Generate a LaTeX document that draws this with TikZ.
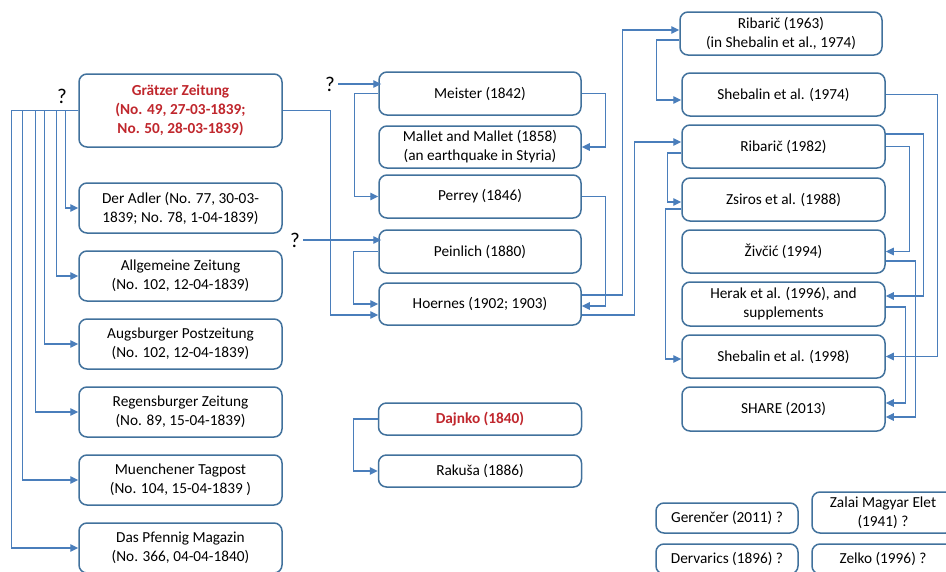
\documentclass[tikz,border=0pt]{standalone}
\usepackage{fontspec}
\setmainfont{Carlito}
\usetikzlibrary{arrows.meta,calc}
\definecolor{boxc}{HTML}{41719C}
\definecolor{connc}{HTML}{4A7EBB}
\definecolor{redt}{HTML}{C0272D}
\begin{document}
\begin{tikzpicture}[x=1pt,y=-1pt,
  box/.style={draw=boxc,line width=1.5pt,rounded corners=8pt,align=center,inner sep=0pt,
    font=\fontsize{15.3}{19}\selectfont,text=black},
  conn/.style={draw=connc,line width=1.3pt},
  arr/.style={conn,-{Triangle[length=8pt,width=7.5pt]}},
  qm/.style={font=\fontsize{21}{24}\selectfont,inner sep=0pt}]
\useasboundingbox (0,0) rectangle (946,571);
% left column
\node[box,minimum width=203pt,minimum height=73pt,font=\fontsize{15.3}{19}\selectfont\bfseries,text=redt] (g) at (180.5,110.5) {Grätzer Zeitung\\(No. 49, 27-03-1839;\\No. 50, 28-03-1839)};
\node[box,minimum width=203pt,minimum height=50pt] (adler) at (180.5,208) {Der Adler (No. 77, 30-03-\\1839; No. 78, 1-04-1839)};
\node[box,minimum width=203pt,minimum height=50pt] (allg) at (180.5,276) {Allgemeine Zeitung\\(No. 102, 12-04-1839)};
\node[box,minimum width=203pt,minimum height=50pt] (augs) at (180.5,344) {Augsburger Postzeitung\\(No. 102, 12-04-1839)};
\node[box,minimum width=203pt,minimum height=50pt] (regs) at (180.5,412) {Regensburger Zeitung\\(No. 89, 15-04-1839)};
\node[box,minimum width=203pt,minimum height=50pt] (muen) at (180.5,480) {Muenchener Tagpost\\(No. 104, 15-04-1839 )};
\node[box,minimum width=203pt,minimum height=50pt] (pfen) at (180.5,548) {Das Pfennig Magazin\\(No. 366, 04-04-1840)};
\node[qm] (q1) at (62,96) {?};
% middle column
\node[box,minimum width=202pt,minimum height=43pt] (meis) at (480,93.5) {Meister (1842)};
\node[box,minimum width=202pt,minimum height=42pt] (mall) at (480,147) {Mallet and Mallet (1858)\\(an earthquake in Styria)};
\node[box,minimum width=202pt,minimum height=43pt] (perr) at (480,196.5) {Perrey (1846)};
\node[box,minimum width=202pt,minimum height=43pt] (pein) at (480,251.5) {Peinlich (1880)};
\node[box,minimum width=202pt,minimum height=42pt] (hoer) at (480,304) {Hoernes (1902; 1903)};
\node[qm] (q2) at (330,84) {?};
\node[qm] (q3) at (295,240) {?};
\node[box,minimum width=203pt,minimum height=32pt,font=\fontsize{15.3}{19}\selectfont\bfseries,text=redt] (dajn) at (480,419) {Dajnko (1840)};
\node[box,minimum width=203pt,minimum height=32pt] (raku) at (480,471) {Rakuša (1886)};
% right column
\node[box,minimum width=202pt,minimum height=43pt] (r63) at (781,33.5) {Ribarič (1963)\\(in Shebalin et al., 1974)};
\node[box,minimum width=203pt,minimum height=43pt] (sh74) at (783.5,94.5) {Shebalin et al. (1974)};
\node[box,minimum width=203pt,minimum height=43pt] (r82) at (783.5,146.5) {Ribarič (1982)};
\node[box,minimum width=203pt,minimum height=43pt] (zsir) at (783.5,199.5) {Zsiros et al. (1988)};
\node[box,minimum width=203pt,minimum height=43pt] (zivc) at (783.5,251.5) {Živčić (1994)};
\node[box,minimum width=203pt,minimum height=44pt] (hera) at (783.5,304) {Herak et al. (1996), and\\supplements};
\node[box,minimum width=203pt,minimum height=43pt] (sh98) at (783.5,356.5) {Shebalin et al. (1998)};
\node[box,minimum width=203pt,minimum height=44pt] (shar) at (783.5,409) {SHARE (2013)};
% bottom right
\node[box,minimum width=142pt,minimum height=30pt] (gere) at (727,518) {Gerenčer (2011) ?};
\node[box,minimum width=142pt,minimum height=41pt] (zala) at (883,512.5) {Zalai Magyar Elet\\(1941) ?};
\node[box,minimum width=142pt,minimum height=30pt] (derv) at (727,559) {Dervarics (1896) ?};
\node[box,minimum width=142pt,minimum height=30pt] (zelk) at (883,559) {Zelko (1996) ?};
% left connectors
\draw[arr] (g.west) -- ++(-13,0) |- (adler.west);
\draw[arr] (g.west) -- ++(-22,0) |- (allg.west);
\draw[arr] (g.west) -- ++(-34,0) |- (augs.west);
\draw[arr] (g.west) -- ++(-43,0) |- (regs.west);
\draw[arr] (g.west) -- ++(-56,0) |- (muen.west);
\draw[arr] (g.west) -- ++(-67,0) |- (pfen.west);
\draw[arr] (g.east) -- ++(48,0) |- ([yshift=-11pt]hoer.west);
% middle connectors
\draw[arr] ([xshift=3pt]q2.east) -- ([xshift=3pt]q2.east -| meis.west);
\draw[arr] ([xshift=3pt]q3.east) -- ([xshift=3pt]q3.east -| pein.west);
\draw[arr] (meis.west) -- ++(-24,0) |- (perr.west);
\draw[arr] (meis.east) -- ++(24,0) |- (mall.east);
\draw[arr] (pein.west) -- ++(-25,0) |- (hoer.west);
\draw[arr] (perr.east) -- ++(24,0) |- ([yshift=-2pt]hoer.east);
\draw[arr] ([yshift=9pt]hoer.east) -- ++(41,0) |- ([yshift=3.5pt]r63.west);
\draw[arr] ([yshift=-11pt]hoer.east) -- ++(53,0) |- ([yshift=4.5pt]r82.west);
\draw[arr] (dajn.west) -- ++(-24,0) |- (raku.west);
% right connectors
\draw[arr] ([yshift=-6.5pt]r63.west) -- ++(-23,0) |- ([yshift=-5.5pt]sh74.west);
\draw[arr] (sh74.east) -- ++(52,0) |- (sh98.east);
\draw[arr] ([yshift=12.5pt]r82.east) -- ++(38,0) |- ([yshift=8pt]hera.east);
\draw[arr] (r82.east) -- ++(24,0) |- (zivc.east);
\draw[arr] ([yshift=-6.5pt]r82.west) -- ++(-14,0) |- ([yshift=-2.5pt]zsir.west);
\draw[arr] ([yshift=-9.5pt]zsir.west) -- ++(-16,0) |- ([yshift=-2.5pt]sh98.west);
\draw[arr] ([yshift=-9.5pt]zivc.east) -- ++(30,0) |- ([yshift=-8pt]shar.east);
\draw[arr] ([yshift=-3pt]hera.east) -- ++(20,0) |- ([yshift=6pt]shar.east);
\end{tikzpicture}
\end{document}
